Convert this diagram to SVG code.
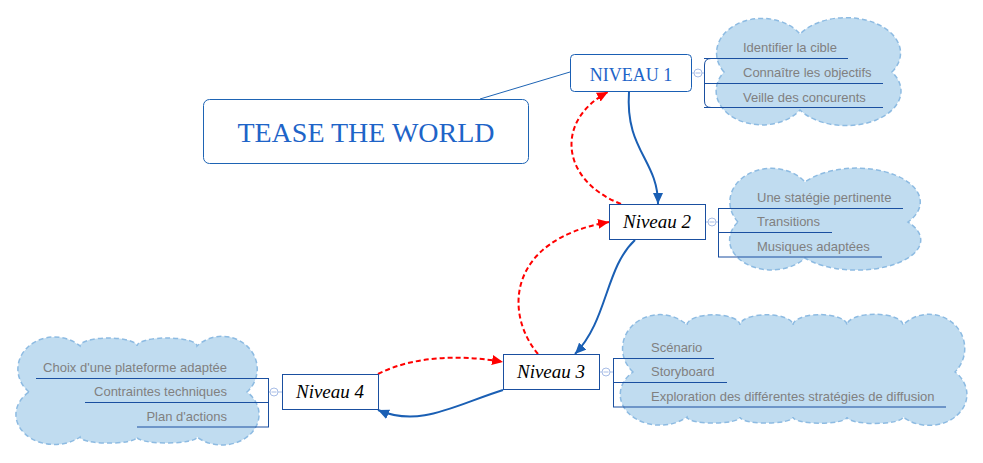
<svg xmlns="http://www.w3.org/2000/svg" width="983" height="463" viewBox="0 0 983 463">
<style>
.cloud{fill:#c0dcf0;stroke:#8dbbe2;stroke-width:1.5;stroke-dasharray:5 3}
.br{fill:none;stroke:#1a4fa0;stroke-width:1}
.item{font-family:"Liberation Sans",Arial,sans-serif;font-size:13px;fill:#808080}
.tog{fill:#fff;stroke:#a8bde6;stroke-width:1}
.togl{stroke:#a8bde6;stroke-width:1}
.box{fill:#fff;stroke:#1a4fa0;stroke-width:1}
.lvl{font-family:"Liberation Serif","Times New Roman",serif;font-style:italic;font-size:19px;fill:#000;text-anchor:middle}
.blue{fill:none;stroke:#1a5fb4;stroke-width:2}
.red{fill:none;stroke:#f00;stroke-width:2;stroke-dasharray:5 3}
</style>
<defs>
<marker id="ab" markerUnits="userSpaceOnUse" markerWidth="12" markerHeight="10" refX="11" refY="5" orient="auto"><path d="M0,0 L11,5 L0,10 z" fill="#1a5fb4"/></marker>
<marker id="ar" markerUnits="userSpaceOnUse" markerWidth="12" markerHeight="10" refX="11" refY="5" orient="auto"><path d="M0,0 L11,5 L0,10 z" fill="#f00"/></marker>
</defs>
<rect width="983" height="463" fill="#fff"/>

<g id="connectors">
<line x1="480" y1="99" x2="570" y2="72" stroke="#1e64b4" stroke-width="1"/>
<path class="blue" d="M629,92 C625,150 658,160 658,204" marker-end="url(#ab)"/>
<path class="blue" d="M635,240 C605,268 608,320 575,354" marker-end="url(#ab)"/>
<path class="blue" d="M503,390 C455,405 420,428 378,410" marker-end="url(#ab)"/>
<path class="red" d="M621,204 C560,180 555,120 608,92" marker-end="url(#ar)"/>
<path class="red" d="M538,354 C505,315 505,240 609,222" marker-end="url(#ar)"/>
<path class="red" d="M378,374 C415,355 465,355 503,362" marker-end="url(#ar)"/>
</g>

<g id="root">
<rect x="203.5" y="99.5" width="325" height="64" rx="6" fill="#fff" stroke="#1e64b4" stroke-width="1"/>
<text x="366" y="142" font-family="Liberation Serif,'Times New Roman',serif" font-size="28" fill="#1e64c8" text-anchor="middle">TEASE THE WORLD</text>
</g>

<g id="niveau1">
<path class="cloud" d="M724,72 A23,17.5 0 0 1 800,34 A27,17.5 0 0 1 892,72 A27,17 0 0 1 800,110 A23,17 0 0 1 724,72 Z"/>
<rect x="570.5" y="54.5" width="121" height="37" rx="4" fill="#fff" stroke="#1a5fb4" stroke-width="1"/>
<text x="631" y="81" font-family="Liberation Serif,'Times New Roman',serif" font-size="18" fill="#1e64c8" text-anchor="middle">NIVEAU 1</text>
<line class="togl" x1="692" y1="73" x2="704" y2="73"/>
<circle class="tog" cx="698" cy="73" r="4"/>
<line class="togl" x1="695.5" y1="73" x2="700.5" y2="73"/>
<path class="br" d="M711,58.5 Q704.5,58.5 704.5,65 L704.5,101 Q704.5,107.5 711,107.5"/>
<line class="br" x1="704" y1="58.5" x2="848" y2="58.5"/>
<line class="br" x1="704" y1="83.5" x2="883" y2="83.5"/>
<line class="br" x1="704" y1="107.5" x2="883" y2="107.5"/>
<text class="item" x="743" y="52">Identifier la cible</text>
<text class="item" x="743" y="77">Connaître les objectifs</text>
<text class="item" x="743" y="102">Veille des concurents</text>
</g>

<g id="niveau2">
<path class="cloud" d="M738,222 A21,17 0 0 1 805,182 A32,17 0 0 1 908,222 A32,15 0 0 1 805,258 A21,15 0 0 1 738,222 Z"/>
<rect class="box" x="609.5" y="204.5" width="96" height="35"/>
<text class="lvl" x="657" y="228">Niveau 2</text>
<line class="togl" x1="706" y1="222" x2="718" y2="222"/>
<circle class="tog" cx="712" cy="222" r="4"/>
<line class="togl" x1="709.5" y1="222" x2="714.5" y2="222"/>
<path class="br" d="M718.5,208.5 L718.5,257"/>
<line class="br" x1="718" y1="208.5" x2="903" y2="208.5"/>
<line class="br" x1="718" y1="232.5" x2="832" y2="232.5"/>
<line class="br" x1="718" y1="257" x2="882" y2="257"/>
<text class="item" x="757" y="202">Une statégie pertinente</text>
<text class="item" x="757" y="226">Transitions</text>
<text class="item" x="757" y="251">Musiques adaptées</text>
</g>

<g id="niveau3">
<path class="cloud" d="M633,372 A18.5,16.75 0 0 1 687,325 A13,5 0 0 1 740,325 A13,5 0 0 1 793,325 A13,5 0 0 1 847,325 A13,5 0 0 1 903,325 A17.5,16.75 0 0 1 955,372 A17.5,14.25 0 0 1 903,417 A13,3 0 0 1 847,417 A13,3 0 0 1 793,417 A13,3 0 0 1 740,417 A13,3 0 0 1 687,417 A18.5,14.25 0 0 1 633,372 Z"/>
<rect class="box" x="503.5" y="354.5" width="96" height="35"/>
<text class="lvl" x="551" y="378">Niveau 3</text>
<line class="togl" x1="600" y1="372" x2="613" y2="372"/>
<circle class="tog" cx="606" cy="372" r="4"/>
<line class="togl" x1="603.5" y1="372" x2="608.5" y2="372"/>
<path class="br" d="M613.5,358.5 L613.5,407"/>
<line class="br" x1="613" y1="358.5" x2="714" y2="358.5"/>
<line class="br" x1="613" y1="382.5" x2="727" y2="382.5"/>
<line class="br" x1="613" y1="407" x2="946" y2="407"/>
<text class="item" x="651" y="352">Scénario</text>
<text class="item" x="651" y="376">Storyboard</text>
<text class="item" x="651" y="401">Exploration des différentes stratégies de diffusion</text>
</g>

<g id="niveau4">
<path class="cloud" d="M29,392 A18,15.75 0 0 1 80,346 A14.25,4 0 0 1 137,346 A15,4 0 0 1 197,346 A17,15.75 0 0 1 247,392 A17,14 0 0 1 197,437 A15,3 0 0 1 137,437 A14,3 0 0 1 80,437 A18,14 0 0 1 29,392 Z"/>
<rect class="box" x="282.5" y="374.5" width="96" height="35"/>
<text class="lvl" x="330" y="398">Niveau 4</text>
<line class="togl" x1="268" y1="392" x2="282" y2="392"/>
<circle class="tog" cx="274" cy="392" r="4"/>
<line class="togl" x1="271.5" y1="392" x2="276.5" y2="392"/>
<path class="br" d="M268.5,378.5 L268.5,427"/>
<line class="br" x1="36" y1="378.5" x2="269" y2="378.5"/>
<line class="br" x1="85" y1="402.5" x2="269" y2="402.5"/>
<line class="br" x1="137" y1="427" x2="269" y2="427"/>
<text class="item" x="227" y="372" text-anchor="end">Choix d'une plateforme adaptée</text>
<text class="item" x="227" y="396" text-anchor="end">Contraintes techniques</text>
<text class="item" x="227" y="421" text-anchor="end">Plan d'actions</text>
</g>
</svg>
